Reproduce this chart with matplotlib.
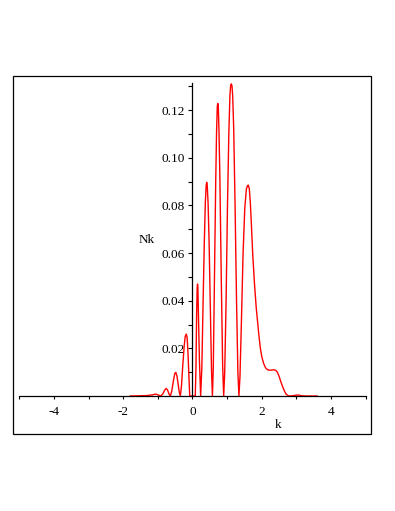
import matplotlib
matplotlib.use("Agg")
import matplotlib.pyplot as plt
from matplotlib.patches import Rectangle
from matplotlib.ticker import FixedLocator

# Curve points
k_values = [
    -1.80, -1.50, -1.30, -1.15, -1.07, -1.00, -0.92, -0.86, -0.80, -0.76,
    -0.72, -0.68, -0.64, -0.60, -0.55, -0.51, -0.48, -0.45, -0.41, -0.38,
    -0.35, -0.32, -0.28, -0.24, -0.21, -0.18, -0.155, -0.13, -0.10, -0.08,
    0.00, 0.08, 0.10, 0.12, 0.135, 0.145, 0.155, 0.17, 0.20, 0.235,
    0.27, 0.30, 0.34, 0.37, 0.395, 0.41, 0.425, 0.45, 0.48, 0.52, 0.55, 0.575,
    0.60, 0.63, 0.67, 0.695, 0.715, 0.73, 0.745, 0.765, 0.79, 0.83, 0.87, 0.90,
    0.93, 0.97, 1.01, 1.05, 1.08, 1.10, 1.12, 1.14, 1.16, 1.19, 1.23, 1.27,
    1.31, 1.34,
    1.37, 1.41, 1.46, 1.51, 1.555, 1.585, 1.61, 1.64, 1.67, 1.70, 1.74, 1.79,
    1.84, 1.88, 1.92, 1.96, 2.00, 2.05, 2.11, 2.17, 2.25, 2.33, 2.40, 2.45,
    2.50, 2.55, 2.60, 2.65, 2.70, 2.78, 2.90, 3.00, 3.05, 3.15, 3.30, 3.60,
]
nk_values = [
    0.0, 0.0001, 0.0002, 0.0005, 0.0008, 0.0005, 0.0, 0.0008, 0.0025, 0.0032,
    0.0025, 0.0009, 0.0, 0.0020, 0.0065, 0.0095, 0.0099, 0.0085, 0.0045, 0.0015,
    0.0, 0.004, 0.013, 0.021, 0.0250, 0.026, 0.0245, 0.018, 0.007, 0.0,
    0.0, 0.0, 0.012, 0.035, 0.0455, 0.047, 0.0455, 0.035, 0.015, 0.0,
    0.012, 0.035, 0.064, 0.081, 0.0885, 0.0897, 0.0885, 0.081, 0.064, 0.033, 0.010, 0.0,
    0.012, 0.045, 0.090, 0.111, 0.1215, 0.1228, 0.1215, 0.111, 0.092, 0.050, 0.013, 0.0,
    0.010, 0.040, 0.080, 0.111, 0.126, 0.1302, 0.131, 0.1302, 0.126, 0.112, 0.079, 0.041,
    0.010, 0.0,
    0.008, 0.030, 0.060, 0.079, 0.0868, 0.0882, 0.0885, 0.087, 0.081, 0.072, 0.059, 0.047,
    0.037, 0.031, 0.025, 0.020, 0.0165, 0.0138, 0.0118, 0.011, 0.0108, 0.011, 0.0108, 0.0100,
    0.0082, 0.0060, 0.0040, 0.0022, 0.0008, 0.0, 0.0001, 0.0004, 0.0004, 0.0001, 0.0, 0.0,
]

x_ticks = [-5, -4, -3, -2, -1, 0, 1, 2, 3, 4, 5]
x_tick_labels = ["", "-4", "", "-2", "", "0", "", "2", "", "4", ""]
y_ticks = [0.02, 0.04, 0.06, 0.08, 0.10, 0.12]
y_tick_labels = ["0.02", "0.04", "0.06", "0.08", "0.10", "0.12"]
y_minor_ticks = [0.01, 0.03, 0.05, 0.07, 0.09, 0.11, 0.13]

W, H = 395, 511
plt.rcParams['font.family'] = ['Liberation Serif', 'DejaVu Serif']

fig = plt.figure(figsize=(W / 100, H / 100), dpi=100)
fig.patch.set_facecolor("white")

# outer frame
fig.add_artist(Rectangle((13 / W, (H - 434) / H), 358 / W, 358 / H,
                         transform=fig.transFigure, fill=False,
                         edgecolor="black", linewidth=0.9))

ax = fig.add_axes([19.3 / W, 115 / H, 346.4 / W, 313.3 / H])
ax.set_facecolor("none")
ax.set_xlim(-5, 5)
ax.set_ylim(0, 0.1315)

ax.spines["top"].set_visible(False)
ax.spines["right"].set_visible(False)
ax.spines["left"].set_position(("data", 0))
ax.spines["bottom"].set_position(("data", 0))
for s in ("left", "bottom"):
    ax.spines[s].set_linewidth(0.9)
    ax.spines[s].set_color("black")

ax.plot(k_values, nk_values, color="#ff0000", linewidth=1.0, clip_on=False,
        solid_joinstyle="round")

ax.set_xticks(x_ticks)
ax.set_xticklabels(x_tick_labels)
ax.set_yticks(y_ticks)
ax.set_yticklabels(y_tick_labels)
ax.yaxis.set_minor_locator(FixedLocator(y_minor_ticks))

ax.tick_params(axis="x", direction="out", length=2.4, width=0.8, pad=5.0,
               labelsize=9.5, colors="black")
ax.tick_params(axis="y", which="both", direction="out", length=2.9, width=0.8,
               pad=2.5, labelsize=9.5, colors="black")

fig.text(147 / W, 1 - 240 / H, "Nk", ha="center", va="center", fontsize=9.5)
fig.text(278 / W, 1 - 425 / H, "k", ha="center", va="center", fontsize=9.5)

fig.savefig("out.png", dpi=100)
